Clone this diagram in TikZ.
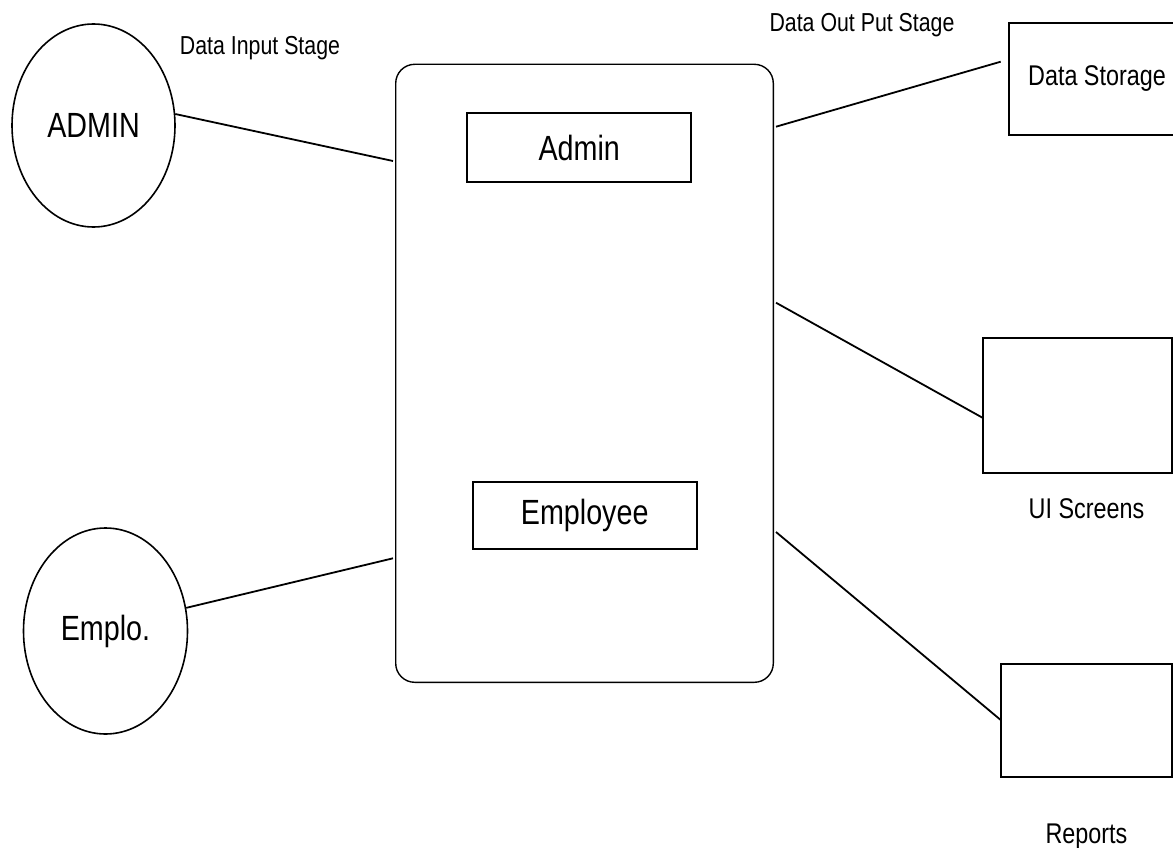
\documentclass[tikz,border=0pt]{standalone}
\usepackage{fontspec}
\setmainfont{Liberation Sans}[FakeStretch=0.82]
\usetikzlibrary{shapes.geometric}
\begin{document}
\begin{tikzpicture}[x=1pt,y=-1pt,
  conn/.style={line width=1.8pt},
  actor/.style={draw, line width=1.6pt, ellipse, inner sep=0pt, font=\fontsize{35}{40}\selectfont},
  plainbox/.style={draw, line width=1.8pt, rectangle, inner sep=0pt},
  bigtext/.style={font=\fontsize{35}{40}\selectfont},
  smalltext/.style={font=\fontsize{26}{30}\selectfont},
  midtext/.style={font=\fontsize{28.5}{32}\selectfont}]
\useasboundingbox (0,0) rectangle (1173,848);

% actors
\node[actor, minimum width=163pt, minimum height=203pt] (admin) at (93.5,125.5) {ADMIN};
\node[actor, minimum width=164pt, minimum height=206pt] (emplo) at (105.5,631) {Emplo.};

% central system box
\node[draw, rounded corners=19pt, line width=1.4pt, minimum width=377.6pt, minimum height=618pt] (main) at (584.5,373.3) {};
\node[plainbox, bigtext, minimum width=223.7pt, minimum height=68.4pt] (adminbox) at (579.2,147.5) {Admin};
\node[plainbox, bigtext, minimum width=224pt, minimum height=67.3pt] (empbox) at (584.7,515.7) {Employee};

% outputs
\node[plainbox, midtext, minimum width=176pt, minimum height=112.3pt] (store) at (1097,78.9) {Data Storage};
\node[plainbox, minimum width=189.3pt, minimum height=135pt] (ui) at (1077.7,405.5) {};
\node[plainbox, minimum width=171.6pt, minimum height=113pt] (rep) at (1086.5,720.5) {};

% labels
\node[smalltext, anchor=base] (lin) at (260,55) {Data Input Stage};
\node[smalltext, anchor=base] (lout) at (862,32) {Data Out Put Stage};
\node[midtext, anchor=base] (lui) at (1086.5,518) {UI Screens};
\node[midtext, anchor=base] (lrep) at (1086.5,843) {Reports};

% connector end points
\coordinate (a1) at (393,161);
\coordinate (e1) at (393,558.3);
\coordinate (o1s) at (776,126.7);
\coordinate (o1e) at (1000.7,61.7);
\coordinate (o2s) at (776,302.7);
\coordinate (o2e) at (983,418);
\coordinate (o3s) at (776,532);
\coordinate (o3e) at (1000.7,720);

% connectors
\draw[conn] (admin.8) -- (a1);
\draw[conn] (emplo.16) -- (e1);
\draw[conn] (o1s) -- (o1e);
\draw[conn] (o2s) -- (o2e);
\draw[conn] (o3s) -- (o3e);
\end{tikzpicture}
\end{document}
